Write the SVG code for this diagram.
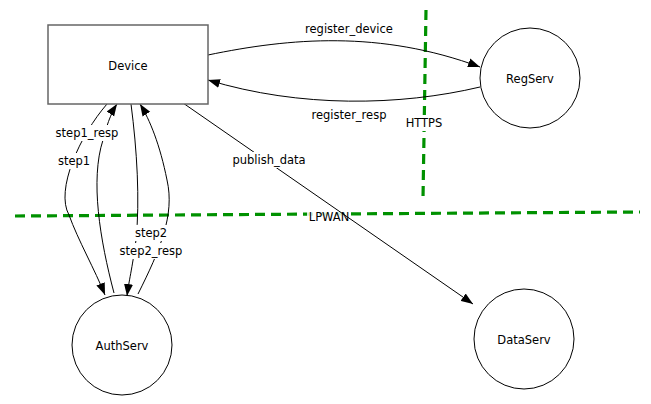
<svg xmlns="http://www.w3.org/2000/svg" width="651" height="404" viewBox="0 0 651 404">
<style>
text{font-family:"DejaVu Sans",Verdana,sans-serif;font-size:11.5px;fill:#000;text-anchor:middle;dominant-baseline:central}
.node{fill:#fff;stroke:#000;stroke-width:1}
.edge{fill:none;stroke:#000;stroke-width:1}
.bound{fill:none;stroke:#009100;stroke-width:3.2;stroke-dasharray:10,6}
.bg{fill:#fff}
</style>
<defs>
<marker id="ah" viewBox="0 0 12 10" refX="12" refY="5" markerWidth="12" markerHeight="10" markerUnits="userSpaceOnUse" orient="auto">
<path d="M0,0.5 L12,5 L0,9.5 z" fill="#000"/>
</marker>
</defs>
<rect width="651" height="404" fill="#fff"/>
<g id="boundaries">
<line class="bound" x1="426" y1="10" x2="423" y2="199"/>
<line class="bound" x1="15" y1="216" x2="640" y2="212"/>
<rect class="bg" x="404" y="115" width="40" height="16"/>
<text x="424" y="123">HTTPS</text>
<rect class="bg" x="307" y="208" width="43" height="16" opacity="0.85"/>
<text x="329" y="217">LPWAN</text>
</g>
<g id="connectors">
<path class="edge" d="M208,55 C290,38 380,30 480,67" marker-end="url(#ah)"/>
<path class="edge" d="M480,87 C400,106 300,108 208,80" marker-end="url(#ah)"/>
<path class="edge" d="M183,103 L473,304" marker-end="url(#ah)"/>
<path class="edge" d="M107,104 C80,135 55,190 69,215 C78,240 95,270 105,295" marker-end="url(#ah)"/>
<path class="edge" d="M114,293 C100,240 90,180 103,140 C108,120 113,110 117,104" marker-end="url(#ah)"/>
<path class="edge" d="M131,104 C137,150 140,200 136,240 C132,270 129,280 127,296" marker-end="url(#ah)"/>
<path class="edge" d="M138,294 C160,250 175,215 167,180 C160,145 150,120 140,104" marker-end="url(#ah)"/>
</g>
<g id="labels">
<rect class="bg" x="52" y="125" width="70" height="16"/>
<text x="87" y="133">step1_resp</text>
<rect class="bg" x="56" y="153" width="36" height="16"/>
<text x="74" y="161">step1</text>
<rect class="bg" x="133" y="225" width="36" height="16"/>
<text x="151" y="233">step2</text>
<rect class="bg" x="116" y="243" width="70" height="16"/>
<text x="151" y="251">step2_resp</text>
<text x="349" y="29">register_device</text>
<text x="349" y="115">register_resp</text>
<rect class="bg" x="231" y="152" width="77" height="16"/>
<text x="269" y="160">publish_data</text>
</g>
<g id="Device">
<rect x="48" y="25" width="160" height="79" fill="#fff" stroke="#666" stroke-width="1.5"/>
<text x="128" y="66">Device</text>
</g>
<g id="RegServ">
<circle class="node" cx="530" cy="78" r="50"/>
<text x="530" y="79">RegServ</text>
</g>
<g id="AuthServ">
<circle class="node" cx="122" cy="345" r="50"/>
<text x="122" y="346">AuthServ</text>
</g>
<g id="DataServ">
<circle class="node" cx="524" cy="339" r="50"/>
<text x="524" y="340">DataServ</text>
</g>
</svg>
